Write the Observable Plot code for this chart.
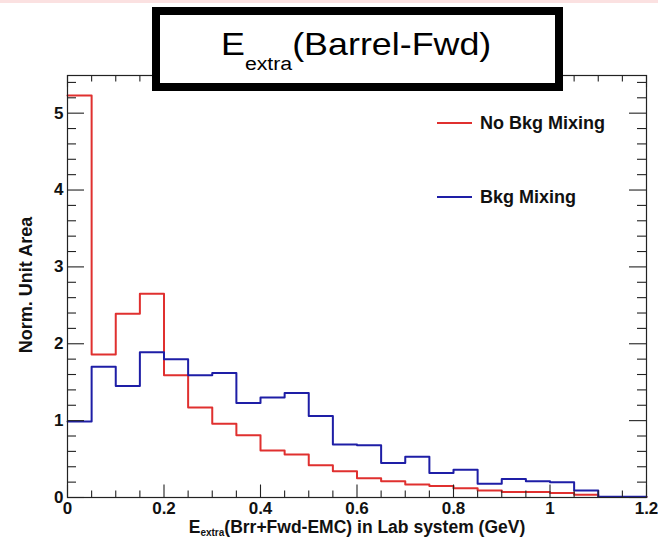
<!DOCTYPE html>
<html>
<head>
<meta charset="utf-8">
<script src="https://cdn.jsdelivr.net/npm/d3@7"></script>
<script src="https://cdn.jsdelivr.net/npm/@observablehq/plot@0.6"></script>
<style>
  html, body { margin: 0; padding: 0; background: #fff; }
  #chart svg { display: block; }
</style>
</head>
<body>
<div id="chart"></div>
<script>
// Bin edges (GeV) of the histograms
const binEdges = [0, 0.05, 0.1, 0.15, 0.2, 0.25, 0.3, 0.35, 0.4, 0.45, 0.5, 0.55, 0.6,
                  0.65, 0.7, 0.75, 0.8, 0.85, 0.9, 0.95, 1.0, 1.05, 1.1, 1.15, 1.2];
// Normalised bin contents
const noBkgMixing = [5.23, 1.86, 2.39, 2.65, 1.59, 1.17, 0.96, 0.81, 0.61, 0.56, 0.42, 0.34,
                     0.25, 0.21, 0.17, 0.15, 0.12, 0.09, 0.07, 0.07, 0.06, 0.035, 0.005, 0.005];
const bkgMixing   = [0.99, 1.70, 1.45, 1.89, 1.80, 1.59, 1.62, 1.23, 1.30, 1.36, 1.06, 0.69,
                     0.68, 0.45, 0.53, 0.32, 0.36, 0.18, 0.24, 0.21, 0.20, 0.09, 0.01, 0.01];
const seriesNames = ["No Bkg Mixing", "Bkg Mixing"];
const seriesColors = ["#e0302f", "#1e1ea6"];
const xTickLabels = [0, 0.2, 0.4, 0.6, 0.8, 1, 1.2];
const yTickLabels = [0, 1, 2, 3, 4, 5];
const titleMain = "E", titleSub = "extra", titleRest = "(Barrel-Fwd)";
const xTitleMain = "E", xTitleSub = "extra", xTitleRest = "(Brr+Fwd-EMC) in Lab system (GeV)";
const yTitle = "Norm. Unit Area";

function steps(vals) {
  const pts = vals.map((v, i) => ({x: binEdges[i], y: v}));
  pts.push({x: binEdges[binEdges.length - 1], y: vals[vals.length - 1]});
  return pts;
}

const W = 658, H = 539;
const mT = 75, mB = 42, mL = 67, mR = 12;
const fw = W - mL - mR, fh = H - mT - mB;
const xMinor = d3.range(1, 24).map(i => +(i * 0.05).toFixed(2)).filter(v => !xTickLabels.some(t => Math.abs(t - v) < 1e-9));
const yMinor = d3.range(1, 28).map(i => +(i * 0.2).toFixed(1)).filter(v => !yTickLabels.includes(v));
const font = "'Liberation Sans', Arial, Helvetica, sans-serif";

const plot = Plot.plot({
  width: W, height: H,
  marginTop: mT, marginBottom: mB, marginLeft: mL, marginRight: mR,
  style: {fontFamily: font, fontWeight: "bold", fontSize: "17px", color: "#111", background: "white"},
  x: {domain: [0, 1.2]},
  y: {domain: [0, 5.49]},
  marks: [
    Plot.line(steps(noBkgMixing), {x: "x", y: "y", curve: "step-after", stroke: seriesColors[0], strokeWidth: 2}),
    Plot.line(steps(bkgMixing), {x: "x", y: "y", curve: "step-after", stroke: seriesColors[1], strokeWidth: 2}),
    Plot.frame({stroke: "#222", strokeWidth: 1.2}),
    // inward ticks, bottom & top
    Plot.tickX(xTickLabels, {x: d => d, insetTop: fh - 12.5, stroke: "#222", strokeWidth: 1.1}),
    Plot.tickX(xMinor, {x: d => d, insetTop: fh - 6.5, stroke: "#222", strokeWidth: 1.1}),
    Plot.tickX(xTickLabels, {x: d => d, insetBottom: fh - 12.5, stroke: "#222", strokeWidth: 1.1}),
    Plot.tickX(xMinor, {x: d => d, insetBottom: fh - 6.5, stroke: "#222", strokeWidth: 1.1}),
    // inward ticks, left & right
    Plot.tickY(yTickLabels, {y: d => d, insetRight: fw - 17, stroke: "#222", strokeWidth: 1.1}),
    Plot.tickY(yMinor, {y: d => d, insetRight: fw - 9, stroke: "#222", strokeWidth: 1.1}),
    Plot.tickY(yTickLabels, {y: d => d, insetLeft: fw - 17, stroke: "#222", strokeWidth: 1.1}),
    Plot.tickY(yMinor, {y: d => d, insetLeft: fw - 9, stroke: "#222", strokeWidth: 1.1}),
    Plot.axisX({ticks: xTickLabels, tickSize: 0, tickPadding: 4, tickFormat: d3.format("~g"), label: null}),
    Plot.axisY({ticks: yTickLabels, tickSize: 0, tickPadding: 4, tickFormat: d3.format("~g"), label: null})
  ]
});

const svg = d3.select(plot);
// faint slide border at top
svg.insert("rect", ":first-child").attr("x", 0).attr("y", 0).attr("width", W).attr("height", 3).attr("fill", "#fbe1e1");

// Title box
const tb = svg.append("g");
tb.append("rect").attr("x", 156).attr("y", 11).attr("width", 403).attr("height", 76)
  .attr("fill", "white").attr("stroke", "black").attr("stroke-width", 8);
const tt = tb.append("text").attr("transform", "translate(221,55) scale(1.12,1)").attr("text-anchor", "start")
  .attr("font-family", font).attr("font-weight", "normal").attr("font-size", 32).attr("fill", "#000");
tt.append("tspan").text(titleMain);
tt.append("tspan").attr("font-size", 19).attr("dy", 15).text(titleSub);
tt.append("tspan").attr("dy", -15).text(titleRest);

// x-axis title
const xt = svg.append("text").attr("x", 357).attr("y", 533).attr("text-anchor", "middle")
  .attr("font-family", font).attr("font-weight", "bold").attr("font-size", 17.5).attr("fill", "#111");
xt.append("tspan").text(xTitleMain);
xt.append("tspan").attr("font-size", 10).attr("dy", 3).text(xTitleSub);
xt.append("tspan").attr("dy", -3).text(xTitleRest);

// y-axis title
svg.append("text").attr("transform", "translate(32,285) rotate(-90)").attr("text-anchor", "middle")
  .attr("font-family", font).attr("font-weight", "bold").attr("font-size", 18).attr("fill", "#111")
  .text(yTitle);

// Legend
const legY = [123, 197];
seriesNames.forEach((name, i) => {
  const g = svg.append("g");
  g.append("line").attr("x1", 437).attr("x2", 472).attr("y1", legY[i]).attr("y2", legY[i])
    .attr("stroke", seriesColors[i]).attr("stroke-width", 2);
  g.append("text").attr("x", 480).attr("y", legY[i] + 6).attr("text-anchor", "start").attr("font-family", font)
    .attr("font-weight", "bold").attr("font-size", 18).attr("fill", "#111").text(name);
});

document.getElementById("chart").appendChild(plot);
</script>
</body>
</html>
